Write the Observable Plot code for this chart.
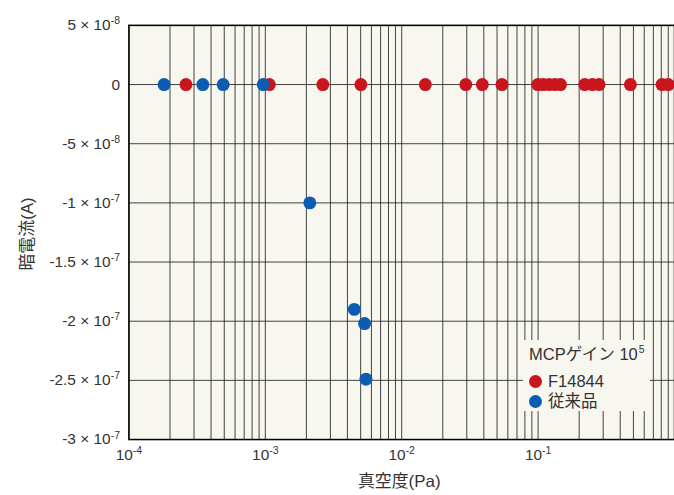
<!DOCTYPE html>
<html>
<head>
<meta charset="utf-8">
<script src="https://cdn.jsdelivr.net/npm/d3@7"></script>
<script src="https://cdn.jsdelivr.net/npm/@observablehq/plot@0.6"></script>
<style>
  html, body { margin: 0; padding: 0; background: #fff; overflow: hidden; }
  #wrap { position: relative; width: 674px; height: 495px; overflow: hidden; font-family: "Liberation Sans", "Noto Sans CJK JP", sans-serif; }
  #legend { position: absolute; left: 523px; top: 340px; width: 127px; height: 71px; background: #f7f6ef; color: #333; font-size: 16.5px; }
  #legend .title { position: absolute; left: 6px; top: 4px; white-space: nowrap; line-height: 20px; }
  #legend .title .sup { font-size: 10.5px; position: relative; top: -7px; margin-left: 1px; }
  #legend .row { position: absolute; left: 6px; white-space: nowrap; display: flex; align-items: center; line-height: 20px; }
  #legend .dot { width: 13px; height: 13px; border-radius: 50%; margin-right: 6px; }
</style>
</head>
<body>
<div id="wrap"></div>
<script>
const xTickValues = [1e-4, 1e-3, 1e-2, 1e-1];
const xTickLabels = ["10⁻⁴", "10⁻³", "10⁻²", "10⁻¹"];
const yTickValues = [5e-8, 0, -5e-8, -1e-7, -1.5e-7, -2e-7, -2.5e-7, -3e-7];
const yTickLabels = ["5 × 10⁻⁸", "0", "-5 × 10⁻⁸", "-1 × 10⁻⁷", "-1.5 × 10⁻⁷", "-2 × 10⁻⁷", "-2.5 × 10⁻⁷", "-3 × 10⁻⁷"];

const seriesNames = ["F14844", "従来品"];
const seriesColors = ["#c9161e", "#0a5db0"];

const redX = [2.62e-4, 1.07e-3, 2.64e-3, 5.02e-3, 1.49e-2, 2.95e-2, 3.9e-2, 5.43e-2, 0.0995, 0.109, 0.1205, 0.133, 0.146, 0.22, 0.25, 0.28, 0.475, 0.81, 0.90];
const redY = [0, 0, 0, 0, 0, 0, 0, 0, 0, 0, 0, 0, 0, 0, 0, 0, 0, 0, 0];
const blueX = [1.81e-4, 3.48e-4, 4.91e-4, 9.66e-4, 2.12e-3, 4.49e-3, 5.34e-3, 5.47e-3];
const blueY = [0, 0, 0, 0, -1.0e-7, -1.9e-7, -2.02e-7, -2.49e-7];

const legendTitleBase = "MCPゲイン 10";
const legendTitleExp = "5";
const xLabel = "真空度(Pa)";
const yLabel = "暗電流(A)";

const red = redX.map((x, i) => ({x, y: redY[i]}));
const blue = blueX.map((x, i) => ({x, y: blueY[i]}));

// log grid positions 1..9 × 10^k
const gridXs = [];
for (let k = -4; k <= -1; k++) for (let m = 1; m <= 9; m++) gridXs.push(m * Math.pow(10, k));
gridXs.push(1);

const xFmt = d => xTickLabels[xTickValues.indexOf(d)];
const yFmt = d => yTickLabels[yTickValues.indexOf(d)];

const font = '"Liberation Sans", "Noto Sans CJK JP", sans-serif';
const chart = Plot.plot({
  width: 677,
  height: 495,
  marginLeft: 129,
  marginRight: 0,
  marginTop: 25,
  marginBottom: 54,
  style: {fontFamily: font, fontSize: "15.5px", color: "#333", background: "transparent"},
  x: {type: "log", domain: [1e-4, 1]},
  y: {domain: [-3e-7, 5e-8]},
  marks: [
    Plot.frame({fill: "#f7f6ef", stroke: "none"}),
    Plot.gridX(gridXs, {stroke: "#222", strokeOpacity: 0.85, strokeWidth: 1}),
    Plot.gridY(yTickValues, {stroke: "#222", strokeOpacity: 0.85, strokeWidth: 1}),
    Plot.frame({stroke: "#000", strokeWidth: 1.5}),
    Plot.axisX(xTickValues, {tickSize: 0, tickPadding: 10, tickFormat: xFmt, fontSize: 15.5, fill: "#333", label: null}),
    Plot.axisY(yTickValues, {tickSize: 0, tickPadding: 9, tickFormat: yFmt, fontSize: 15.5, fill: "#333", label: null}),
    Plot.dot(red, {x: "x", y: "y", r: 6.5, fill: seriesColors[0], stroke: "none"}),
    Plot.dot(blue, {x: "x", y: "y", r: 6.5, fill: seriesColors[1], stroke: "none"})
  ]
});

// render unicode superscripts as raised smaller tspans
const supMap = {"⁰":"0","¹":"1","²":"2","³":"3","⁴":"4","⁵":"5","⁶":"6","⁷":"7","⁸":"8","⁹":"9","⁻":"-"};
const ns = "http://www.w3.org/2000/svg";
chart.querySelectorAll("text").forEach(t => {
  const s = t.textContent;
  const m = s.match(/^(.*?)([⁰¹²³⁴⁵⁶⁷⁸⁹⁻]+)$/);
  if (!m) return;
  while (t.firstChild) t.removeChild(t.firstChild);
  const base = document.createElementNS(ns, "tspan");
  base.textContent = m[1];
  const sup = document.createElementNS(ns, "tspan");
  sup.textContent = [...m[2]].map(c => supMap[c]).join("");
  sup.setAttribute("font-size", "10.5");
  sup.setAttribute("dy", "-6");
  t.appendChild(base);
  t.appendChild(sup);
});

const wrap = document.getElementById("wrap");
wrap.appendChild(chart);

// axis titles
const xt = document.createElementNS(ns, "text");
xt.setAttribute("x", 401); xt.setAttribute("y", 489);
xt.setAttribute("text-anchor", "middle"); xt.setAttribute("font-size", "17");
xt.setAttribute("fill", "#333");
xt.textContent = xLabel;
chart.appendChild(xt);
const yt = document.createElementNS(ns, "text");
yt.setAttribute("transform", "translate(28,235) rotate(-90)");
yt.setAttribute("text-anchor", "middle"); yt.setAttribute("dominant-baseline", "central");
yt.setAttribute("font-size", "17");
yt.setAttribute("fill", "#333");
yt.textContent = yLabel;
chart.appendChild(yt);

// legend
const lg = document.createElement("div");
lg.id = "legend";
let html = `<div class="title">${legendTitleBase}<span class="sup">${legendTitleExp}</span></div>`;
seriesNames.forEach((n, i) => {
  html += `<div class="row" style="top:${31 + i * 20}px"><span class="dot" style="background:${seriesColors[i]}"></span><span>${n}</span></div>`;
});
lg.innerHTML = html;
wrap.appendChild(lg);
</script>
</body>
</html>
